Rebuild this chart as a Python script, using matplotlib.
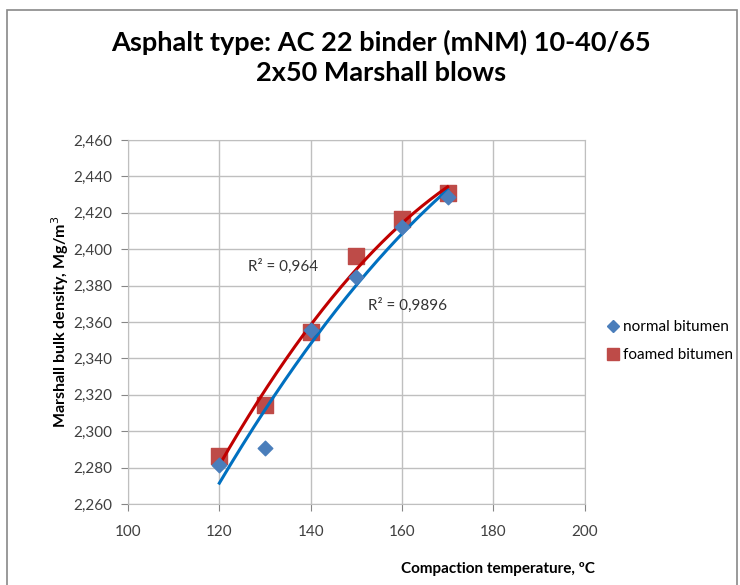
import numpy as np
import matplotlib.pyplot as plt
from matplotlib.lines import Line2D
from matplotlib.patches import Rectangle
from matplotlib.ticker import FuncFormatter

plt.rcParams['font.family'] = ['Lato', 'DejaVu Sans']

# data
temps = [120, 130, 140, 150, 160, 170]
normal = [2.2815, 2.2905, 2.3555, 2.3845, 2.4120, 2.4285]
foamed = [2.2865, 2.3145, 2.3545, 2.3965, 2.4165, 2.4310]
r2_normal = "R² = 0,9896"
r2_foamed = "R² = 0,964"

blue = '#4a7ebb'
red = '#be4b48'

fig = plt.figure(figsize=(7.4, 5.85), dpi=100)
ax = fig.add_axes([0.173, 0.1385, 0.617, 0.6222])

# trend lines (2nd order polynomial, as in Excel)
xs = np.linspace(120, 170, 200)
pn = np.polyfit(temps, normal, 2)
pf = np.polyfit(temps, foamed, 2)
ax.plot(xs, np.polyval(pn, xs), color='#0070c0', lw=2.2, zorder=3)
ax.plot(xs, np.polyval(pf, xs), color='#c00000', lw=2.2, zorder=3)

ax.scatter(temps, normal, marker='D', s=55, color=blue, zorder=4)
ax.scatter(temps, foamed, marker='s', s=120, color=red, zorder=2)

ax.text(126.3, 2.3908, r2_foamed, fontsize=11, color='#333333', va='center')
ax.text(152.5, 2.3693, r2_normal, fontsize=11, color='#333333', va='center')

ax.set_xlim(100, 200)
ax.set_ylim(2.26, 2.46)
ax.set_xticks(range(100, 201, 20))
ax.set_yticks(np.arange(2.26, 2.4601, 0.02))
ax.yaxis.set_major_formatter(FuncFormatter(lambda v, p: f"{v:.3f}".replace('.', ',')))
ax.grid(True, color='#bfbfbf', lw=1)
ax.set_axisbelow(True)
for s in ax.spines.values():
    s.set_color('#bfbfbf')
ax.tick_params(direction='out', length=5, color='#868686', labelsize=11,
               labelcolor='#404040', pad=6)
ax.tick_params(axis='x', pad=10)

ax.set_ylabel("Marshall bulk density, Mg/m$^3$", fontsize=11.5, fontweight='bold', labelpad=2)
fig.text(0.673, 0.02, "Compaction temperature, ºC", fontsize=11, fontweight='bold', ha='center')

fig.text(0.515, 0.928, "Asphalt type: AC 22 binder (mNM) 10-40/65", fontsize=19.5,
         fontweight='bold', ha='center', va='center')
fig.text(0.515, 0.876, "2x50 Marshall blows", fontsize=19.5,
         fontweight='bold', ha='center', va='center')

handles = [Line2D([], [], marker='D', ls='', color=blue, markersize=6),
           Line2D([], [], marker='s', ls='', color=red, markersize=9)]
fig.legend(handles, ['normal bitumen', 'foamed bitumen'], loc='center left',
           bbox_to_anchor=(0.8, 0.417), frameon=False, fontsize=11,
           handletextpad=0.1, labelspacing=0.9, handlelength=1.0)

fig.patches.append(Rectangle((0.009, -0.1), 0.987, 1.083, transform=fig.transFigure,
                             fill=False, edgecolor='#898989', lw=1.2))

fig.savefig('out.png', dpi=100)
